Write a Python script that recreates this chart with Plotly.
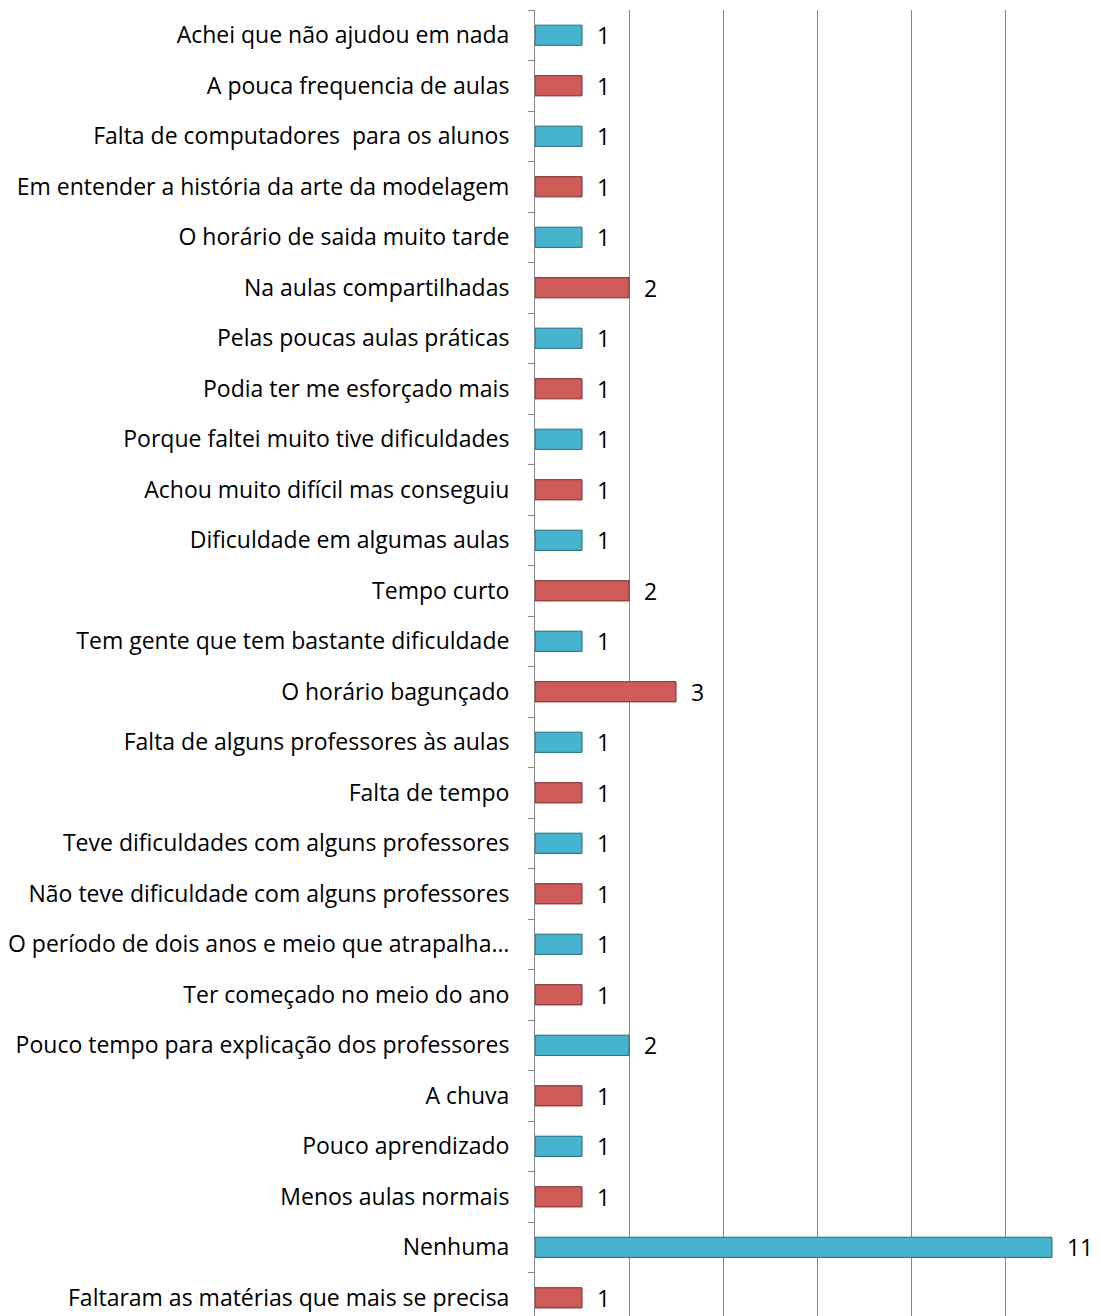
import plotly.graph_objects as go

categories = [
    "Achei que não ajudou em nada",
    "A pouca frequencia de aulas",
    "Falta de computadores  para os alunos",
    "Em entender a história da arte da modelagem",
    "O horário de saida muito tarde",
    "Na aulas compartilhadas",
    "Pelas poucas aulas práticas",
    "Podia ter me esforçado mais",
    "Porque faltei muito tive dificuldades",
    "Achou muito difícil mas conseguiu",
    "Dificuldade em algumas aulas",
    "Tempo curto",
    "Tem gente que tem bastante dificuldade",
    "O horário bagunçado",
    "Falta de alguns professores às aulas",
    "Falta de tempo",
    "Teve dificuldades com alguns professores",
    "Não teve dificuldade com alguns professores",
    "O período de dois anos e meio que atrapalha…",
    "Ter começado no meio do ano",
    "Pouco tempo para explicação dos professores",
    "A chuva",
    "Pouco aprendizado",
    "Menos aulas normais",
    "Nenhuma",
    "Faltaram as matérias que mais se precisa",
]
values = [1, 1, 1, 1, 1, 2, 1, 1, 1, 1, 1, 2, 1, 3, 1, 1, 1, 1, 1, 1, 2, 1, 1, 1, 11, 1]

blue, red = "#46B4CE", "#CF5B58"
blue_line, red_line = "#24697A", "#7A2C2A"
colors = [blue if i % 2 == 0 else red for i in range(len(categories))]
lines = [blue_line if i % 2 == 0 else red_line for i in range(len(categories))]

FONT = "Open Sans, sans-serif"
FS = 23

fig = go.Figure()
fig.add_trace(go.Bar(
    y=categories, x=values, orientation="h",
    marker=dict(color=colors, line=dict(color=lines, width=1)),
    width=0.4,
    text=values, texttemplate="\u00a0\u00a0%{x}", textposition="outside",
    constraintext="none",
    textfont=dict(family=FONT, size=FS, color="#000000"),
    cliponaxis=False,
))

fig.update_layout(
    width=1093, height=1308,
    margin=dict(l=527, r=2, t=2, b=0),
    paper_bgcolor="white", plot_bgcolor="white",
    showlegend=False,
    font=dict(family=FONT, size=FS, color="#000000"),
)
fig.update_xaxes(
    range=[0, 12], dtick=2, showticklabels=False,
    showgrid=True, gridcolor="#868686", gridwidth=1,
    zeroline=False, showline=False, fixedrange=True,
)
fig.update_yaxes(
    type="category", categoryorder="array", categoryarray=categories,
    range=[25.36, -0.5],
    showline=True, linecolor="#868686", linewidth=1,
    ticks="outside", ticklen=6, tickcolor="#868686", tickson="boundaries",
    ticklabelstandoff=20,
    showgrid=False, tickfont=dict(family=FONT, size=FS, color="#000000"),
)

fig.write_html("out.html")
